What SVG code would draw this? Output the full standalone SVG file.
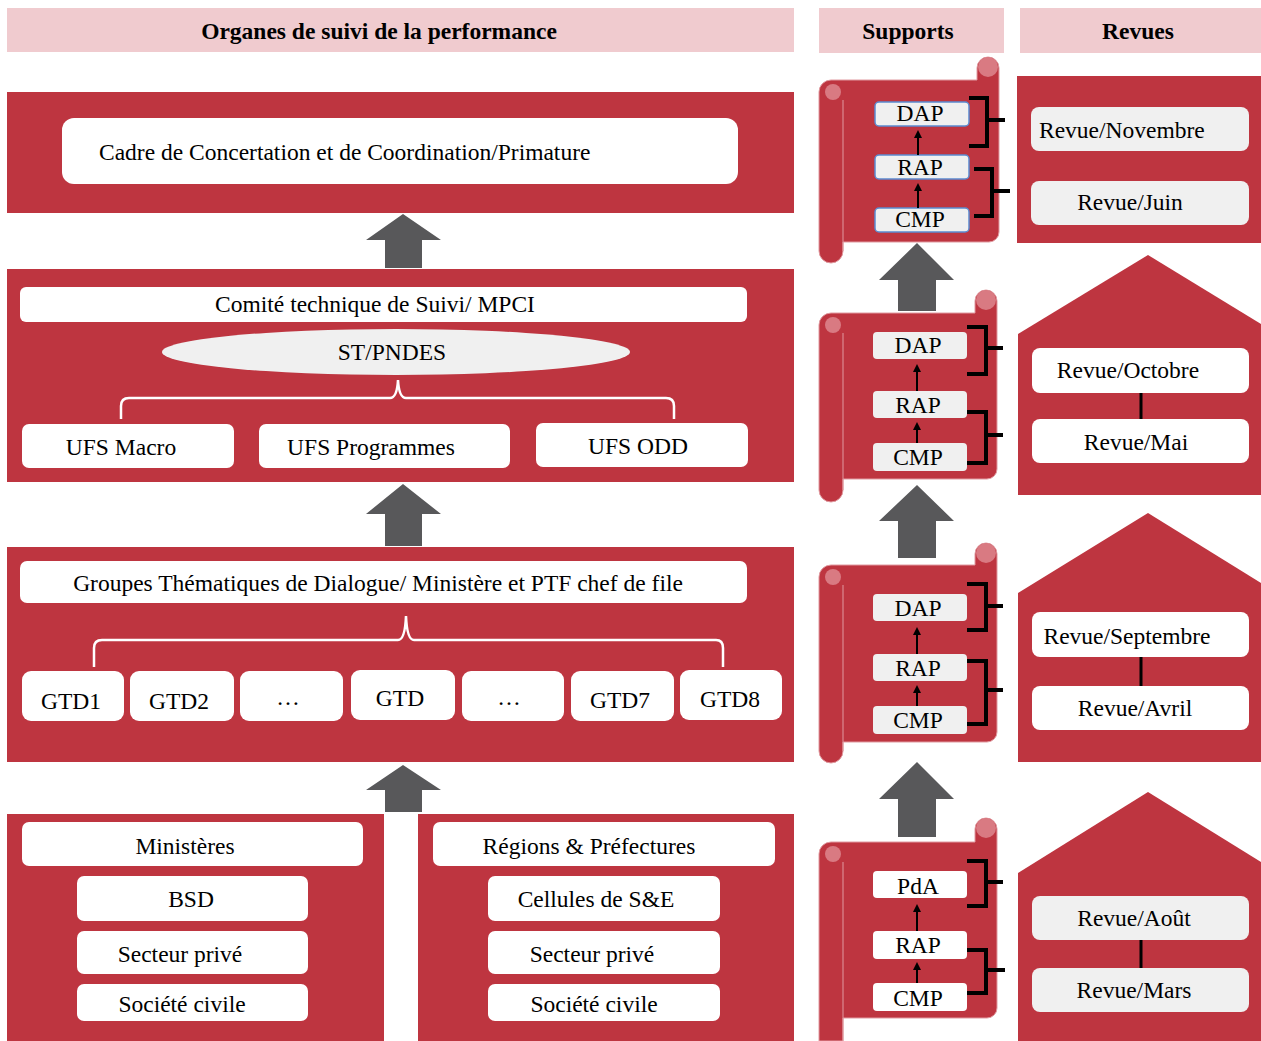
<svg xmlns="http://www.w3.org/2000/svg" width="1261" height="1041" viewBox="0 0 1261 1041">
<style>
.hdr{fill:#F0CBCF}
.red{fill:#BE3540}
.wb{fill:#FFFFFF}
.gb{fill:#F0F0F0}
.blue{fill:#F0F0F0;stroke:#5B8BD0;stroke-width:1.5}
.arr{fill:#58585A}
.t{font-family:"Liberation Serif","Times New Roman",serif;font-size:23.5px;fill:#000;text-anchor:middle;dominant-baseline:central}
.th{font-family:"Liberation Serif","Times New Roman",serif;font-size:23.5px;font-weight:bold;fill:#000;text-anchor:middle;dominant-baseline:central}
.brace{fill:none;stroke:#FFFFFF;stroke-width:2.5}
.bk{fill:none;stroke:#000;stroke-width:4}
.ln{stroke:#000;stroke-width:2}
.scroll{fill:#BE3540;stroke:#E09AA0;stroke-width:1}
.curl{fill:#D97A82}
</style>
<defs>
<marker id="ah" markerWidth="8" markerHeight="8" refX="4" refY="4" orient="auto" markerUnits="userSpaceOnUse" viewBox="0 0 8 8">
<path d="M0 0 L8 4 L0 8 Z" fill="#000"/>
</marker>
</defs>

<g id="headers">
<rect class="hdr" x="7" y="8" width="787" height="44"/>
<text class="th" x="379" y="31">Organes de suivi de la performance</text>
<rect class="hdr" x="819" y="8" width="185" height="45"/>
<text class="th" x="908" y="31">Supports</text>
<rect class="hdr" x="1020" y="8" width="241" height="45"/>
<text class="th" x="1138" y="31">Revues</text>
</g>

<g id="panel-cadre">
<rect class="red" x="7" y="92" width="787" height="121"/>
<rect class="wb" x="62" y="118" width="676" height="66" rx="12"/>
<text class="t" x="99" y="152" style="text-anchor:start">Cadre de Concertation et de Coordination/Primature</text>
</g>

<g id="panel-comite">
<rect class="red" x="7" y="269" width="787" height="213"/>
<rect class="wb" x="20" y="287" width="727" height="35" rx="6"/>
<text class="t" x="375" y="304">Comité technique de Suivi/ MPCI</text>
<ellipse class="gb" cx="396" cy="352" rx="234" ry="23"/>
<text class="t" x="392" y="352">ST/PNDES</text>
<path class="brace" d="M121 419 V406 Q121 398 129 398 H390 Q397 398 398 380 Q399 398 406 398 H666 Q674 398 674 406 V419"/>
<rect class="wb" x="22" y="424" width="212" height="44" rx="7"/>
<text class="t" x="121" y="447">UFS Macro</text>
<rect class="wb" x="259" y="424" width="251" height="44" rx="7"/>
<text class="t" x="371" y="447">UFS Programmes</text>
<rect class="wb" x="536" y="423" width="212" height="44" rx="7"/>
<text class="t" x="638" y="446">UFS ODD</text>
</g>

<g id="panel-gtd">
<rect class="red" x="7" y="547" width="787" height="215"/>
<rect class="wb" x="20" y="561" width="727" height="42" rx="7"/>
<text class="t" x="378" y="583">Groupes Thématiques de Dialogue/ Ministère et PTF chef de file</text>
<path class="brace" d="M94 667 V648 Q94 640 102 640 H398 Q405 640 406 616 Q407 640 414 640 H716 Q723 640 723 648 V667"/>
<rect class="wb" x="22" y="671" width="102" height="50" rx="9"/>
<text class="t" x="71" y="701">GTD1</text>
<rect class="wb" x="130" y="671" width="104" height="50" rx="9"/>
<text class="t" x="179" y="701">GTD2</text>
<rect class="wb" x="240" y="671" width="103" height="50" rx="9"/>
<text class="t" x="288" y="697">…</text>
<rect class="wb" x="351" y="670" width="104" height="50" rx="9"/>
<text class="t" x="400" y="698">GTD</text>
<rect class="wb" x="462" y="671" width="102" height="50" rx="9"/>
<text class="t" x="509" y="697">…</text>
<rect class="wb" x="571" y="671" width="103" height="50" rx="9"/>
<text class="t" x="620" y="700">GTD7</text>
<rect class="wb" x="680" y="670" width="102" height="50" rx="9"/>
<text class="t" x="730" y="699">GTD8</text>
</g>

<g id="panel-ministeres">
<rect class="red" x="7" y="814" width="377" height="227"/>
<rect class="wb" x="22" y="822" width="341" height="44" rx="7"/>
<text class="t" x="185" y="846">Ministères</text>
<rect class="wb" x="77" y="876" width="231" height="45" rx="7"/>
<text class="t" x="191" y="899">BSD</text>
<rect class="wb" x="77" y="931" width="231" height="43" rx="7"/>
<text class="t" x="180" y="954">Secteur privé</text>
<rect class="wb" x="77" y="984" width="231" height="37" rx="7"/>
<text class="t" x="182" y="1004">Société civile</text>
</g>

<g id="panel-regions">
<rect class="red" x="418" y="814" width="376" height="227"/>
<rect class="wb" x="433" y="822" width="342" height="44" rx="7"/>
<text class="t" x="589" y="846">Régions &amp; Préfectures</text>
<rect class="wb" x="488" y="876" width="232" height="45" rx="7"/>
<text class="t" x="596" y="899">Cellules de S&amp;E</text>
<rect class="wb" x="488" y="931" width="232" height="43" rx="7"/>
<text class="t" x="592" y="954">Secteur privé</text>
<rect class="wb" x="488" y="984" width="232" height="37" rx="7"/>
<text class="t" x="594" y="1004">Société civile</text>
</g>

<g id="scroll-1">
<path class="scroll" d="M819 92 A12 12 0 0 1 831 80 H977 V68 A11 11 0 0 1 999 68 V232 A10 10 0 0 1 989 242 H843 V251 A12 12 0 0 1 819 251 Z"/>
<circle class="curl" cx="988" cy="67" r="10"/>
<circle class="curl" cx="833" cy="92" r="8"/>
<line x1="843" y1="100" x2="843" y2="251" stroke="#E09AA0" stroke-width="1"/>
<rect class="blue" x="875" y="102" width="94" height="24" rx="4"/>
<text class="t" x="920" y="113">DAP</text>
<rect class="blue" x="875" y="155" width="94" height="24" rx="4"/>
<text class="t" x="920" y="167">RAP</text>
<rect class="blue" x="875" y="208" width="94" height="24" rx="4"/>
<text class="t" x="920" y="219">CMP</text>
</g>

<g id="scroll-2">
<path class="scroll" d="M819 325 A12 12 0 0 1 831 313 H975 V301 A11 11 0 0 1 997 301 V469 A10 10 0 0 1 987 479 H843 V490 A12 12 0 0 1 819 490 Z"/>
<circle class="curl" cx="986" cy="300" r="10"/>
<circle class="curl" cx="833" cy="325" r="8"/>
<line x1="843" y1="333" x2="843" y2="490" stroke="#E09AA0" stroke-width="1"/>
<rect class="gb" x="873" y="332" width="94" height="27" rx="4"/>
<text class="t" x="918" y="345">DAP</text>
<rect class="gb" x="873" y="391" width="94" height="27" rx="4"/>
<text class="t" x="918" y="405">RAP</text>
<rect class="gb" x="873" y="443" width="94" height="28" rx="4"/>
<text class="t" x="918" y="457">CMP</text>
</g>

<g id="scroll-3">
<path class="scroll" d="M819 577 A12 12 0 0 1 831 565 H975 V554 A11 11 0 0 1 997 554 V732 A10 10 0 0 1 987 742 H843 V751 A12 12 0 0 1 819 751 Z"/>
<circle class="curl" cx="986" cy="553" r="10"/>
<circle class="curl" cx="833" cy="577" r="8"/>
<line x1="843" y1="585" x2="843" y2="751" stroke="#E09AA0" stroke-width="1"/>
<rect class="gb" x="873" y="594" width="94" height="27" rx="4"/>
<text class="t" x="918" y="608">DAP</text>
<rect class="gb" x="873" y="654" width="94" height="27" rx="4"/>
<text class="t" x="918" y="668">RAP</text>
<rect class="gb" x="873" y="706" width="94" height="28" rx="4"/>
<text class="t" x="918" y="720">CMP</text>
</g>

<g id="scroll-4">
<path class="scroll" d="M819 854 A12 12 0 0 1 831 842 H975 V829 A11 11 0 0 1 997 829 V1008 A10 10 0 0 1 987 1018 H843 V1041 H819 Z"/>
<circle class="curl" cx="986" cy="828" r="10"/>
<circle class="curl" cx="833" cy="854" r="8"/>
<line x1="843" y1="862" x2="843" y2="1041" stroke="#E09AA0" stroke-width="1"/>
<rect class="wb" x="873" y="871" width="94" height="27" rx="4"/>
<text class="t" x="918" y="886">PdA</text>
<rect class="wb" x="873" y="931" width="94" height="28" rx="4"/>
<text class="t" x="918" y="945">RAP</text>
<rect class="wb" x="873" y="983" width="94" height="28" rx="4"/>
<text class="t" x="918" y="998">CMP</text>
</g>

<g id="revues-1">
<rect class="red" x="1017" y="76" width="244" height="167"/>
<rect class="gb" x="1031" y="107" width="218" height="44" rx="8"/>
<text class="t" x="1039" y="130" style="text-anchor:start">Revue/Novembre</text>
<rect class="gb" x="1031" y="181" width="218" height="44" rx="8"/>
<text class="t" x="1130" y="202">Revue/Juin</text>
</g>

<g id="revues-2">
<path class="red" d="M1018 334 L1148 255 L1261 324 V495 H1018 Z"/>
<rect class="wb" x="1032" y="348" width="217" height="45" rx="8"/>
<text class="t" x="1128" y="370">Revue/Octobre</text>
<rect class="wb" x="1032" y="419" width="217" height="44" rx="8"/>
<text class="t" x="1136" y="442">Revue/Mai</text>
</g>

<g id="revues-3">
<path class="red" d="M1018 593 L1148 513 L1261 583 V762 H1018 Z"/>
<rect class="wb" x="1032" y="612" width="217" height="45" rx="8"/>
<text class="t" x="1127" y="636">Revue/Septembre</text>
<rect class="wb" x="1032" y="686" width="217" height="44" rx="8"/>
<text class="t" x="1135" y="708">Revue/Avril</text>
</g>

<g id="revues-4">
<path class="red" d="M1018 873 L1148 792 L1261 862 V1041 H1018 Z"/>
<rect class="gb" x="1032" y="896" width="217" height="44" rx="8"/>
<text class="t" x="1134" y="918">Revue/Août</text>
<rect class="gb" x="1032" y="968" width="217" height="44" rx="8"/>
<text class="t" x="1134" y="990">Revue/Mars</text>
</g>

<g id="connectors">
<path class="arr" d="M403 214 L441 240 H422 V268 H385 V240 H366 Z"/>
<path class="arr" d="M403 484 L441 514 H422 V546 H385 V514 H366 Z"/>
<path class="arr" d="M403 765 L441 790 H422 V812 H385 V790 H366 Z"/>
<path class="arr" d="M917 243 L954 280 H936 V311 H898 V280 H879 Z"/>
<path class="arr" d="M917 485 L954 521 H936 V558 H898 V521 H879 Z"/>
<path class="arr" d="M917 762 L954 799 H936 V837 H898 V799 H879 Z"/>

<line class="ln" x1="918" y1="155" x2="918" y2="134" marker-end="url(#ah)"/>
<line class="ln" x1="918" y1="208" x2="918" y2="187" marker-end="url(#ah)"/>
<line class="ln" x1="917" y1="391" x2="917" y2="368" marker-end="url(#ah)"/>
<line class="ln" x1="917" y1="443" x2="917" y2="426" marker-end="url(#ah)"/>
<line class="ln" x1="917" y1="654" x2="917" y2="631" marker-end="url(#ah)"/>
<line class="ln" x1="917" y1="706" x2="917" y2="689" marker-end="url(#ah)"/>
<line class="ln" x1="917" y1="931" x2="917" y2="908" marker-end="url(#ah)"/>
<line class="ln" x1="917" y1="983" x2="917" y2="966" marker-end="url(#ah)"/>

<path class="bk" d="M969 98 H987 V146 H969 M987 120 H1005"/>
<path class="bk" d="M974 169 H992 V216 H974 M992 191 H1010"/>
<path class="bk" d="M967 327 H986 V374 H967 M986 348 H1003"/>
<path class="bk" d="M967 412 H986 V463 H967 M986 435 H1003"/>
<path class="bk" d="M967 584 H986 V630 H967 M986 606 H1003"/>
<path class="bk" d="M967 661 H986 V724 H967 M986 690 H1003"/>
<path class="bk" d="M967 861 H986 V906 H967 M986 882 H1003"/>
<path class="bk" d="M967 950 H986 V993 H967 M986 970 H1005"/>

<line class="ln" x1="1141" y1="393" x2="1141" y2="419" style="stroke-width:3"/>
<line class="ln" x1="1141" y1="657" x2="1141" y2="686" style="stroke-width:3"/>
<line class="ln" x1="1141" y1="940" x2="1141" y2="968" style="stroke-width:3"/>
</g>
</svg>
